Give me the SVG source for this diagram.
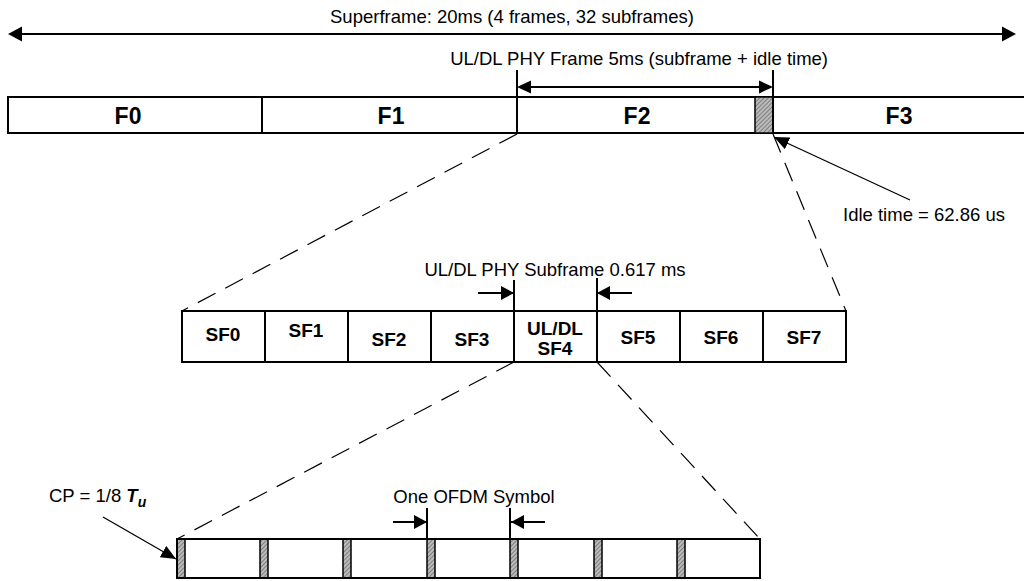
<svg xmlns="http://www.w3.org/2000/svg" width="1024" height="581" viewBox="0 0 1024 581">
<defs>
<marker id="ah" markerWidth="15" markerHeight="13" refX="15" refY="6.5" orient="auto" markerUnits="userSpaceOnUse">
<path d="M0,0 L15,6.5 L0,13 Z" fill="#000"/>
</marker>
<marker id="ahs" markerWidth="13" markerHeight="14" refX="13" refY="7" orient="auto" markerUnits="userSpaceOnUse">
<path d="M0,0 L13,7 L0,14 Z" fill="#000"/>
</marker>
<pattern id="hatch" width="3" height="3" patternUnits="userSpaceOnUse" patternTransform="rotate(45)">
<rect width="3" height="3" fill="#bbb"/>
<line x1="0" y1="0" x2="0" y2="3" stroke="#555" stroke-width="1.2"/>
</pattern>
<style>
.t{font-family:"Liberation Sans",Arial,sans-serif;font-size:18.5px;fill:#000}
.b{font-family:"Liberation Sans",Arial,sans-serif;font-weight:bold;fill:#000;text-anchor:middle}
.f{font-size:23px}
.s{font-size:19px}
.box{fill:#fff;stroke:#000;stroke-width:2}
.ln{stroke:#000;stroke-width:2;fill:none}
.thin{stroke:#000;stroke-width:1.3;fill:none}
.dash{stroke:#000;stroke-width:1.2;fill:none;stroke-dasharray:20,11}
.h{fill:url(#hatch);stroke:#000;stroke-width:1.5}
</style>
</defs>
<g id="connectors">
<line class="ln" x1="20" y1="34" x2="1004" y2="34"/>
<path d="M8,34 L22,26.5 L22,41.5 Z"/>
<path d="M1016,34 L1002,26.5 L1002,41.5 Z"/>
<line class="ln" x1="517" y1="70" x2="517" y2="97"/>
<line class="ln" x1="773" y1="70" x2="773" y2="97"/>
<line class="ln" x1="529" y1="87" x2="761" y2="87"/>
<path d="M517,87 L531,80.5 L531,93.5 Z"/>
<path d="M773,87 L759,80.5 L759,93.5 Z"/>
<line class="dash" x1="517" y1="134" x2="182" y2="311"/>
<line class="dash" x1="773" y1="134" x2="846" y2="311"/>
<line class="thin" x1="910" y1="200" x2="774" y2="137" marker-end="url(#ah)"/>
<line class="ln" x1="514" y1="280" x2="514" y2="311"/>
<line class="ln" x1="597" y1="278" x2="597" y2="311"/>
<line class="ln" x1="478" y1="293" x2="514" y2="293" marker-end="url(#ahs)"/>
<line class="ln" x1="632" y1="293" x2="597" y2="293" marker-end="url(#ahs)"/>
<line class="dash" x1="514" y1="362" x2="177" y2="539"/>
<line class="dash" x1="597" y1="362" x2="760" y2="539"/>
<line class="ln" x1="427" y1="508" x2="427" y2="539"/>
<line class="ln" x1="510" y1="508" x2="510" y2="539"/>
<line class="ln" x1="393" y1="522" x2="427" y2="522" marker-end="url(#ahs)"/>
<line class="ln" x1="545" y1="522" x2="511" y2="522" marker-end="url(#ahs)"/>
<line class="thin" x1="103" y1="517" x2="176" y2="559" marker-end="url(#ah)"/>
</g>
<g id="labels">
<text class="t" x="512" y="23" font-size="18" text-anchor="middle">Superframe: 20ms (4 frames, 32 subframes)</text>
<text class="t" x="828" y="65" text-anchor="end">UL/DL PHY Frame 5ms (subframe + idle time)</text>
<text class="t" x="843" y="221">Idle time = 62.86 us</text>
<text class="t" x="555" y="276" text-anchor="middle" font-size="17">UL/DL PHY Subframe 0.617 ms</text>
<text class="t" x="474" y="503" text-anchor="middle">One OFDM Symbol</text>
<text class="t" x="49" y="502" font-size="18">CP = 1/8 <tspan font-style="italic" font-weight="bold">T</tspan><tspan font-style="italic" font-weight="bold" font-size="14" dy="5">u</tspan></text>
</g>
<g id="frames">
<rect class="box" x="8" y="97" width="1030" height="36"/>
<line class="ln" x1="262" y1="97" x2="262" y2="133"/>
<line class="ln" x1="517" y1="97" x2="517" y2="133"/>
<rect class="h" x="755" y="97" width="18" height="36"/>
<line class="ln" x1="773" y1="97" x2="773" y2="133"/>
<g id="F0"><text class="b f" x="128" y="124">F0</text></g>
<g id="F1"><text class="b f" x="391" y="124">F1</text></g>
<g id="F2"><text class="b f" x="637" y="124">F2</text></g>
<g id="F3"><text class="b f" x="899" y="124">F3</text></g>
</g>
<g id="subframes">
<rect class="box" x="182" y="311" width="664" height="51"/>
<line class="ln" x1="265" y1="311" x2="265" y2="362"/>
<line class="ln" x1="348" y1="311" x2="348" y2="362"/>
<line class="ln" x1="431" y1="311" x2="431" y2="362"/>
<line class="ln" x1="514" y1="311" x2="514" y2="362"/>
<line class="ln" x1="597" y1="311" x2="597" y2="362"/>
<line class="ln" x1="680" y1="311" x2="680" y2="362"/>
<line class="ln" x1="763" y1="311" x2="763" y2="362"/>
<g id="SF0"><text class="b s" x="223" y="341">SF0</text></g>
<g id="SF1"><text class="b s" x="306" y="337">SF1</text></g>
<g id="SF2"><text class="b s" x="389" y="346">SF2</text></g>
<g id="SF3"><text class="b s" x="472" y="346">SF3</text></g>
<g id="SF4"><text class="b s" x="555" y="335">UL/DL</text><text class="b s" x="555" y="355">SF4</text></g>
<g id="SF5"><text class="b s" x="638" y="344">SF5</text></g>
<g id="SF6"><text class="b s" x="721" y="344">SF6</text></g>
<g id="SF7"><text class="b s" x="804" y="344">SF7</text></g>
</g>
<g id="symbols">
<rect class="box" x="177" y="539" width="583" height="39"/>
<rect class="h" x="177" y="539" width="8" height="39"/>
<rect class="h" x="260" y="539" width="8" height="39"/>
<rect class="h" x="343" y="539" width="8" height="39"/>
<rect class="h" x="427" y="539" width="8" height="39"/>
<rect class="h" x="510" y="539" width="8" height="39"/>
<rect class="h" x="594" y="539" width="8" height="39"/>
<rect class="h" x="677" y="539" width="8" height="39"/>
<rect x="177" y="539" width="583" height="39" style="fill:none;stroke:#000;stroke-width:2"/>
</g>
</svg>
